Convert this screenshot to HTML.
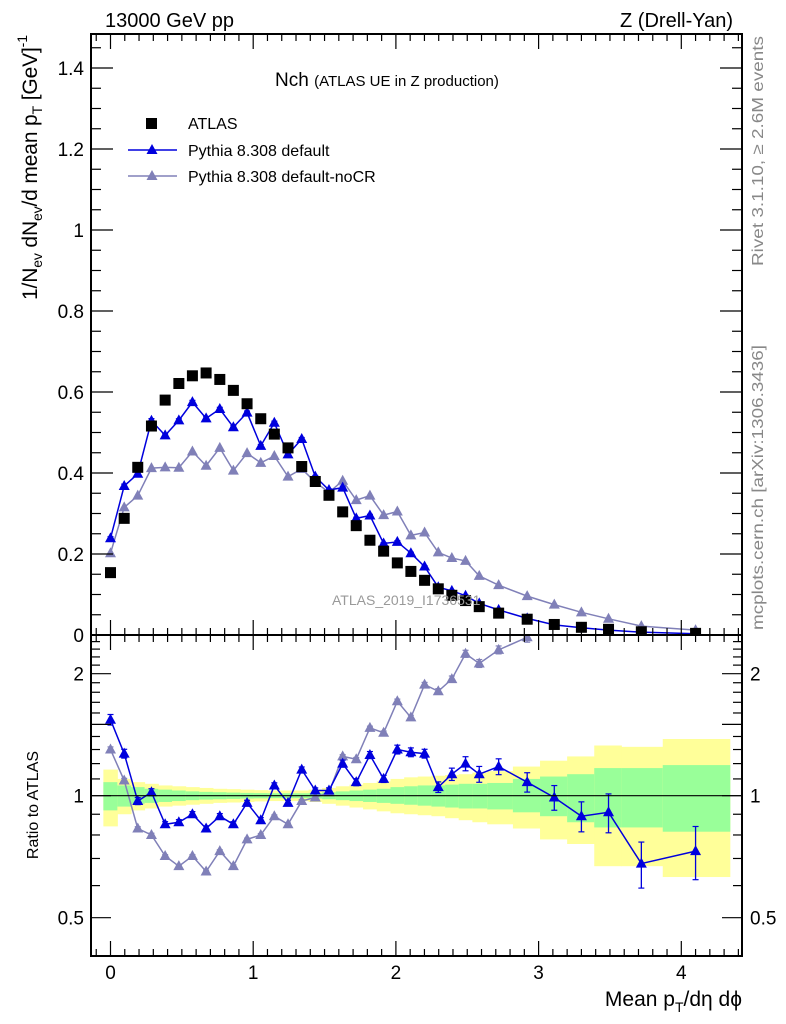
<!DOCTYPE html>
<html><head><meta charset="utf-8"><style>
html,body{margin:0;padding:0;background:#fff;}
svg{display:block;font-family:"Liberation Sans",sans-serif;}
</style></head><body>
<svg id="chart" width="786" height="1024" viewBox="0 0 786 1024" xmlns="http://www.w3.org/2000/svg">
<defs>
<clipPath id="clipMain"><rect x="91" y="34" width="651" height="601"/></clipPath>
<clipPath id="clipRatio"><rect x="91" y="635" width="651" height="321"/></clipPath>
</defs>
<g id="bands" clip-path="url(#clipRatio)"></g>
<g id="grid"></g>
<g id="series"></g>
<g id="axes"></g>
<text x="105" y="27" font-size="20">13000 GeV pp</text>
<text x="733" y="27" font-size="20" text-anchor="end">Z (Drell-Yan)</text>
<text x="275" y="86" font-size="19">Nch <tspan font-size="15">(ATLAS UE in Z production)</tspan></text>
<g>
<rect x="146" y="118" width="11" height="11" fill="#000"/>
<text x="188" y="129" font-size="16">ATLAS</text>
<line x1="128" y1="150" x2="177" y2="150" stroke="#0000dd" stroke-width="1.5"/>
<polygon points="152,144 146.5,154 157.5,154" fill="#0000dd"/>
<text x="188" y="156" font-size="16">Pythia 8.308 default</text>
<line x1="128" y1="176" x2="177" y2="176" stroke="#8080b8" stroke-width="1.5"/>
<polygon points="152,170 146.5,180 157.5,180" fill="#8080b8"/>
<text x="188" y="182" font-size="16">Pythia 8.308 default-noCR</text>
</g>
<text x="332" y="605" font-size="14" fill="#999">ATLAS_2019_I1736531</text>
<text transform="translate(763,266) rotate(-90)" font-size="16" fill="#888" textLength="230" lengthAdjust="spacingAndGlyphs">Rivet 3.1.10, ≥ 2.6M events</text>
<text transform="translate(763,630) rotate(-90)" font-size="16" fill="#888" textLength="285" lengthAdjust="spacingAndGlyphs">mcplots.cern.ch [arXiv:1306.3436]</text>
<text transform="translate(37,300) rotate(-90)" font-size="21" textLength="265" lengthAdjust="spacing">1/N<tspan font-size="14" dy="5">ev</tspan><tspan dy="-5"> dN</tspan><tspan font-size="14" dy="5">ev</tspan><tspan dy="-5">/d mean p</tspan><tspan font-size="14" dy="5">T</tspan><tspan dy="-5">  [GeV]</tspan><tspan font-size="14" dy="-10">-1</tspan></text>
<text transform="translate(38,805) rotate(-90)" font-size="16" text-anchor="middle">Ratio to ATLAS</text>
<text x="742" y="1006" font-size="21" text-anchor="end">Mean p<tspan font-size="14" dy="6">T</tspan><tspan dy="-6">/dη dϕ</tspan></text>
</svg>
<script>
const xVals=[0,0.096,0.191,0.287,0.383,0.479,0.574,0.670,0.766,0.861,0.957,1.053,1.148,1.244,1.340,1.435,1.531,1.627,1.722,1.818,1.914,2.010,2.105,2.201,2.297,2.392,2.488,2.584,2.72,2.92,3.11,3.30,3.49,3.72,4.10];
const binEdges=[-0.05,0.048,0.144,0.239,0.335,0.431,0.527,0.622,0.718,0.814,0.909,1.005,1.101,1.196,1.292,1.388,1.483,1.579,1.675,1.770,1.866,1.962,2.058,2.153,2.249,2.345,2.440,2.536,2.64,2.82,3.01,3.20,3.39,3.58,3.87,4.34];
const atlasVals=[0.154,0.288,0.414,0.516,0.580,0.621,0.640,0.647,0.631,0.604,0.571,0.534,0.496,0.462,0.416,0.379,0.345,0.304,0.270,0.234,0.207,0.178,0.157,0.135,0.114,0.098,0.085,0.070,0.054,0.039,0.026,0.019,0.014,0.008,0.004];
const defaultVals=[0.239,0.368,0.398,0.529,0.493,0.530,0.575,0.535,0.558,0.513,0.549,0.467,0.524,0.446,0.484,0.391,0.358,0.364,0.288,0.295,0.226,0.230,0.202,0.169,0.118,0.109,0.097,0.078,0.062,0.041,0.025,0.018,0.012,0.007,0.003];
const noCRVals=[0.202,0.315,0.344,0.412,0.414,0.413,0.453,0.418,0.462,0.406,0.449,0.425,0.442,0.391,0.410,0.378,0.352,0.381,0.333,0.344,0.296,0.305,0.246,0.253,0.204,0.190,0.183,0.146,0.123,0.096,0.075,0.056,0.040,0.022,0.012];
const ratioDefault=[1.54,1.27,0.97,1.02,0.85,0.86,0.90,0.83,0.89,0.85,0.96,0.87,1.06,0.96,1.16,1.03,1.03,1.20,1.08,1.26,1.10,1.30,1.28,1.27,1.05,1.13,1.20,1.13,1.18,1.08,0.99,0.89,0.91,0.68,0.73];
const ratioDefaultErr=[0.03,0.025,0.02,0.02,0.015,0.015,0.015,0.015,0.015,0.015,0.015,0.015,0.015,0.015,0.015,0.015,0.015,0.02,0.02,0.02,0.02,0.025,0.025,0.025,0.03,0.035,0.04,0.045,0.045,0.055,0.07,0.085,0.11,0.13,0.15];
const ratioNoCR=[1.30,1.09,0.83,0.80,0.71,0.67,0.71,0.65,0.73,0.67,0.78,0.80,0.89,0.85,0.97,0.99,1.02,1.25,1.23,1.47,1.43,1.71,1.56,1.88,1.81,1.94,2.24,2.12,2.29,2.46,2.9,2.9,2.9,2.8,3.0];
const yellowHi=[1.16,1.10,1.08,1.07,1.06,1.055,1.05,1.045,1.04,1.038,1.035,1.032,1.03,1.03,1.03,1.035,1.045,1.055,1.065,1.075,1.085,1.10,1.11,1.115,1.12,1.125,1.13,1.14,1.15,1.18,1.22,1.25,1.33,1.32,1.38];
const yellowLo=[0.84,0.90,0.92,0.93,0.94,0.945,0.95,0.955,0.96,0.962,0.965,0.968,0.97,0.97,0.97,0.965,0.955,0.945,0.935,0.925,0.915,0.905,0.90,0.895,0.89,0.88,0.87,0.86,0.85,0.83,0.78,0.76,0.67,0.67,0.63];
const greenHi=[1.08,1.06,1.05,1.04,1.035,1.03,1.025,1.022,1.02,1.018,1.016,1.015,1.014,1.014,1.014,1.016,1.02,1.025,1.03,1.035,1.04,1.05,1.055,1.06,1.06,1.065,1.07,1.07,1.075,1.10,1.115,1.13,1.17,1.17,1.19];
const greenLo=[0.92,0.94,0.955,0.96,0.965,0.97,0.975,0.978,0.98,0.982,0.984,0.985,0.986,0.986,0.986,0.984,0.98,0.975,0.97,0.965,0.96,0.955,0.95,0.945,0.94,0.935,0.93,0.93,0.925,0.91,0.89,0.86,0.835,0.835,0.815];
const mainTicks=[0,0.2,0.4,0.6,0.8,1,1.2,1.4];
const mainTickLabels=["0","0.2","0.4","0.6","0.8","1","1.2","1.4"];
const xTicks=[0,1,2,3,4];
const xTickLabels=["0","1","2","3","4"];
const ratioTicks=[0.5,1,2];
const ratioTickLabels=["0.5","1","2"];

const NS="http://www.w3.org/2000/svg";
const X0=91,X1=742,YT=34,YM=635,YB=956;
function xs(v){return 110.5+142.7*v;}
function ym(v){return 635-405*v;}
function yr(v){return 795.7-176*Math.log(v);}
function mk(tag,attrs,parent){const e=document.createElementNS(NS,tag);for(const k in attrs)e.setAttribute(k,attrs[k]);parent.appendChild(e);return e;}
const bands=document.getElementById('bands'),series=document.getElementById('series'),axes=document.getElementById('axes');

for(let i=0;i<xVals.length;i++){
  const xa=xs(binEdges[i]),xb=xs(binEdges[i+1]);
  const r1=mk('rect',{x:xa,y:yr(yellowHi[i]),width:xb-xa+0.5,height:yr(yellowLo[i])-yr(yellowHi[i]),fill:'#ffff99'},bands);
  
  
  const r2=mk('rect',{x:xa,y:yr(greenHi[i]),width:xb-xa+0.5,height:yr(greenLo[i])-yr(greenHi[i]),fill:'#99ff99'},bands);
  
  
}
const one=mk('line',{x1:X0,x2:X1,y1:yr(1),y2:yr(1),stroke:'#000','stroke-width':1.2},axes);



function tri(g,x,y,c){return mk('polygon',{points:`${x},${y-6} ${x-5.5},${y+4} ${x+5.5},${y+4}`,fill:c},g);}
function drawSeries(vals,yf,color,name,clip,errs){
  const g=mk('g',{'clip-path':`url(#${clip})`},series);
  
  
  mk('polyline',{points:vals.map((v,i)=>`${xs(xVals[i])},${yf(v)}`).join(' '),fill:'none',stroke:color,'stroke-width':1.5},g);
  vals.forEach((v,i)=>{
    const x=xs(xVals[i]),y=yf(v);
    if(errs){const e=errs[i];mk('line',{x1:x,x2:x,y1:yf(v*(1+e)),y2:yf(v*(1-e)),stroke:color,'stroke-width':1.3},g);
      mk('line',{x1:x-3,x2:x+3,y1:yf(v*(1+e)),y2:yf(v*(1+e)),stroke:color,'stroke-width':1.2},g);
      mk('line',{x1:x-3,x2:x+3,y1:yf(v*(1-e)),y2:yf(v*(1-e)),stroke:color,'stroke-width':1.2},g);}
    const t=tri(g,x,y,color);
    
    
  });
}
drawSeries(noCRVals,ym,'#8080b8','nocr-main-series','clipMain',null);
drawSeries(defaultVals,ym,'#0000dd','default-main-series','clipMain',ratioDefaultErr.map(e=>e*0.5));
const ag=mk('g',{'clip-path':'url(#clipMain)'},series);


atlasVals.forEach((v,i)=>{
  const r=mk('rect',{x:xs(xVals[i])-5.5,y:ym(v)-5.5,width:11,height:11,fill:'#000'},ag);
  
  
});
drawSeries(ratioNoCR,yr,'#8080b8','nocr-ratio-series','clipRatio',ratioDefaultErr.map(e=>e*0.5));
drawSeries(ratioDefault,yr,'#0000dd','default-ratio-series','clipRatio',ratioDefaultErr);

[[YT,YM],[YM,YB]].forEach(([a,b])=>{mk('rect',{x:X0,y:a,width:X1-X0,height:b-a,fill:'none',stroke:'#000','stroke-width':2},axes);});
for(let k=-1;k<=44;k++){
  const v=k/10,x=xs(v);if(x<X0||x>X1)continue;
  const maj=(k%10===0),L=maj?15:7;
  [[YM,-1],[YT,1],[YB,-1],[YM,1]].forEach(([y,d])=>{mk('line',{x1:x,x2:x,y1:y,y2:y+d*L,stroke:'#000','stroke-width':1.2},axes);});
}
xTicks.forEach((v,i)=>{const t=mk('text',{x:xs(v),y:979,'font-size':19,'text-anchor':'middle'},axes);t.textContent=xTickLabels[i];
  
  });
for(let k=0;k<=29;k++){const v=k*0.05,y=ym(v);if(y<YT)continue;const maj=(k%4===0),L=maj?22:10;
  mk('line',{x1:X0,x2:X0+L,y1:y,y2:y,stroke:'#000','stroke-width':1.2},axes);
  mk('line',{x1:X1,x2:X1-L,y1:y,y2:y,stroke:'#000','stroke-width':1.2},axes);}
mainTicks.forEach((v,i)=>{const t=mk('text',{x:84,y:ym(v)+7,'font-size':19,'text-anchor':'end'},axes);t.textContent=mainTickLabels[i];
  
  });
for(let k=4;k<=24;k++){const v=k/10,y=yr(v);if(y<YM||y>YB)continue;const maj=(k===5||k===10||k===15||k===20),L=maj?20:9;
  mk('line',{x1:X0,x2:X0+L,y1:y,y2:y,stroke:'#000','stroke-width':1.2},axes);
  mk('line',{x1:X1,x2:X1-L,y1:y,y2:y,stroke:'#000','stroke-width':1.2},axes);}
ratioTicks.forEach((v,i)=>{
  const t=mk('text',{x:84,y:yr(v)+7,'font-size':19,'text-anchor':'end'},axes);t.textContent=ratioTickLabels[i];
  
  
  const t2=mk('text',{x:750,y:yr(v)+7,'font-size':19},axes);t2.textContent=ratioTickLabels[i];
  
  
});
</script>
</body></html>
